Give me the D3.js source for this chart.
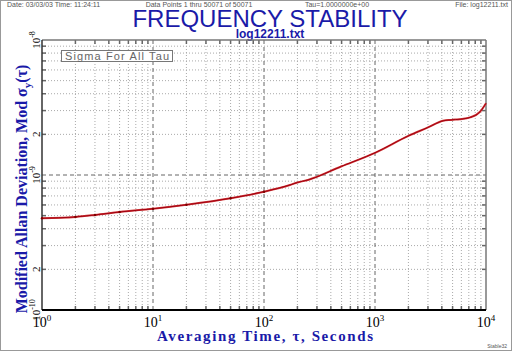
<!DOCTYPE html>
<html>
<head>
<meta charset="utf-8">
<script src="https://cdn.jsdelivr.net/npm/d3@7"></script>
<style>
  body { margin: 0; background: #fff; }
  svg { display: block; }
</style>
</head>
<body>
<div id="chart"></div>
<script>
const width = 512;
const height = 351;

// --- Data ---
const tau = [1, 2, 3, 5, 10, 20, 50, 100, 171, 200, 249, 500, 1000, 2000, 3000, 4100, 4850, 5830, 7180, 8840, 10000];
const modAdev = [4.78e-10, 4.89e-10, 5.06e-10, 5.32e-10, 5.62e-10, 6.02e-10, 6.72e-10, 7.52e-10, 8.43e-10, 8.80e-10, 9.19e-10,
  1.16e-9, 1.46e-9, 1.95e-9, 2.25e-9, 2.52e-9, 2.56e-9, 2.59e-9, 2.67e-9, 2.94e-9, 3.40e-9];
const xTickLabels = [[1, "0"], [10, "1"], [100, "2"], [1000, "3"], [10000, "4"]];
const yTickLabels = [[1e-8, "10", "-8"], [2e-9, "2", null], [1e-9, "10", "-9"], [2e-10, "2", null], [1e-10, "10", "-10"]];

const margin = { left: 42, right: 26, top: 40, bottom: 41 };

const svg = d3.select("#chart")
  .append("svg")
  .attr("width", width)
  .attr("height", height);

const x = d3.scaleLog().domain([1, 1e4]).range([margin.left, width - margin.right]);
const y = d3.scaleLog().domain([1e-10, 1e-8]).range([height - margin.bottom, margin.top]);

const x0 = x.range()[0], x1 = x.range()[1];
const y0 = y.range()[1], y1 = y.range()[0];

// --- Header ---
const hdr = svg.append("g")
  .attr("font-family", "Liberation Sans, Arial, sans-serif")
  .attr("font-size", 7)
  .attr("fill", "#555");
hdr.append("text").attr("x", 7).attr("y", 6.5).text("Date: 03/03/03   Time: 11:24:11");
hdr.append("text").attr("x", 199).attr("y", 6.5).attr("text-anchor", "middle").text("Data Points 1 thru 50071 of 50071");
hdr.append("text").attr("x", 337).attr("y", 6.5).attr("text-anchor", "middle").text("Tau=1.0000000e+00");
hdr.append("text").attr("x", 508).attr("y", 6.5).attr("text-anchor", "end").text("File: log12211.txt");

svg.append("text")
  .attr("x", 270).attr("y", 27)
  .attr("text-anchor", "middle")
  .attr("font-family", "Liberation Sans, Arial, sans-serif")
  .attr("font-size", 24)
  .attr("fill", "#1a1aa8")
  .text("FREQUENCY STABILITY");

svg.append("text")
  .attr("x", 270).attr("y", 38)
  .attr("text-anchor", "middle")
  .attr("font-family", "Liberation Sans, Arial, sans-serif")
  .attr("font-weight", "bold")
  .attr("font-size", 12)
  .attr("fill", "#1a1aa8")
  .text("log12211.txt");

// --- Grid ---
const minorX = [];
for (let d = 1; d < 1e4; d *= 10) for (let k = 2; k <= 9; k++) minorX.push(d * k);
const minorY = [];
for (let d = 1e-10; d < 1e-8 * 0.99; d *= 10) for (let k = 2; k <= 9; k++) minorY.push(d * k);

const grid = svg.append("g");
grid.selectAll(".gx").data(minorX).enter().append("line")
  .attr("x1", d => x(d)).attr("x2", d => x(d))
  .attr("y1", y0).attr("y2", y1)
  .attr("stroke", "#aaa").attr("stroke-dasharray", "1,2");
grid.selectAll(".gy").data(minorY).enter().append("line")
  .attr("y1", d => y(d)).attr("y2", d => y(d))
  .attr("x1", x0).attr("x2", x1)
  .attr("stroke", "#aaa").attr("stroke-dasharray", "1,2");
grid.selectAll(".mx").data([10, 100, 1000]).enter().append("line")
  .attr("x1", d => x(d)).attr("x2", d => x(d))
  .attr("y1", y0).attr("y2", y1)
  .attr("stroke", "#666").attr("stroke-dasharray", "4,3");
grid.selectAll(".my").data([1e-9]).enter().append("line")
  .attr("y1", d => y(d)).attr("y2", d => y(d))
  .attr("x1", x0).attr("x2", x1)
  .attr("stroke", "#666").attr("stroke-dasharray", "4,3");

// --- Frame ticks (inward, all sides) ---
const ticks = svg.append("g").attr("stroke", "#666").attr("stroke-width", 1.5);
minorX.forEach(d => {
  ticks.append("line").attr("x1", x(d)).attr("x2", x(d)).attr("y1", y0).attr("y2", y0 + 4);
  ticks.append("line").attr("x1", x(d)).attr("x2", x(d)).attr("y1", y1).attr("y2", y1 - 4);
});
minorY.forEach(d => {
  ticks.append("line").attr("y1", y(d)).attr("y2", y(d)).attr("x1", x0).attr("x2", x0 + 4);
  ticks.append("line").attr("y1", y(d)).attr("y2", y(d)).attr("x1", x1).attr("x2", x1 - 4);
});

// --- Frame ---
svg.append("line").attr("x1", x0).attr("x2", x1).attr("y1", y0).attr("y2", y0).attr("stroke", "#777").attr("stroke-width", 1.5);
svg.append("line").attr("x1", x1).attr("x2", x1).attr("y1", y0).attr("y2", y1).attr("stroke", "#777").attr("stroke-width", 1.5);
svg.append("line").attr("x1", x0).attr("x2", x0).attr("y1", y0).attr("y2", y1).attr("stroke", "#333").attr("stroke-width", 1.5);
svg.append("line").attr("x1", x0).attr("x2", x1).attr("y1", y1).attr("y2", y1).attr("stroke", "#000").attr("stroke-width", 2);

// --- Legend box ---
svg.append("rect").attr("x", 61.5).attr("y", 50.5).attr("width", 111).attr("height", 11)
  .attr("fill", "#fff").attr("stroke", "#777");
svg.append("text").attr("x", 117).attr("y", 60)
  .attr("text-anchor", "middle")
  .attr("font-family", "Liberation Sans, Arial, sans-serif")
  .attr("font-size", 11)
  .attr("fill", "#666")
  .attr("textLength", 104)
  .text("Sigma For All Tau");

// --- Curve ---
const pts = tau.map((t, i) => [t, modAdev[i]]);
const line = d3.line().x(d => x(d[0])).y(d => y(d[1])).curve(d3.curveMonotoneX);
svg.append("path").datum(pts)
  .attr("d", line)
  .attr("fill", "none")
  .attr("stroke", "#d23a3a")
  .attr("stroke-width", 2);
svg.append("path").datum(pts)
  .attr("d", line)
  .attr("fill", "none")
  .attr("stroke", "#a00010")
  .attr("stroke-width", 1);
svg.selectAll(".pt").data(pts.filter(d => d[0] <= 100)).enter().append("circle")
  .attr("cx", d => x(d[0])).attr("cy", d => y(d[1])).attr("r", 1.2)
  .attr("fill", "#800000");

// --- Tick labels ---
const xl = svg.append("g")
  .attr("font-family", "Liberation Serif, Times New Roman, serif")
  .attr("font-size", 14)
  .attr("fill", "#000");
xTickLabels.forEach(([v, e]) => {
  const t = xl.append("text").attr("x", x(v)).attr("y", y1 + 17).attr("text-anchor", "middle");
  t.append("tspan").text("10");
  t.append("tspan").attr("font-size", 9).attr("dy", -6).text(e);
});

const yl = svg.append("g")
  .attr("font-family", "Liberation Serif, Times New Roman, serif")
  .attr("font-size", 11)
  .attr("fill", "#000");
yTickLabels.forEach(([v, b, e]) => {
  const t = yl.append("text")
    .attr("transform", `translate(${x0 - 2},${y(v)}) rotate(-90)`)
    .attr("text-anchor", "middle");
  t.append("tspan").text(b);
  if (e) t.append("tspan").attr("font-size", 8).attr("dy", -5).text(e);
});

// --- Axis titles ---
svg.append("text")
  .attr("x", 265).attr("y", 341)
  .attr("text-anchor", "middle")
  .attr("font-family", "Liberation Serif, Times New Roman, serif")
  .attr("font-size", 15)
  .attr("font-weight", "bold")
  .attr("fill", "#1a1aa8")
  .attr("textLength", 216)
  .text("Averaging Time, \u03c4, Seconds");

const yt = svg.append("text")
  .attr("transform", `translate(27,189) rotate(-90)`)
  .attr("text-anchor", "middle")
  .attr("font-family", "Liberation Serif, Times New Roman, serif")
  .attr("font-size", 16)
  .attr("font-weight", "bold")
  .attr("fill", "#1a1aa8");
yt.append("tspan").text("Modified Allan Deviation, Mod \u03c3");
yt.append("tspan").attr("font-size", 11).attr("dy", 4).text("y");
yt.append("tspan").attr("dy", -4).text("(\u03c4)");

svg.append("text").attr("x", 507).attr("y", 348)
  .attr("text-anchor", "end")
  .attr("font-family", "Liberation Sans, Arial, sans-serif")
  .attr("font-size", 5)
  .attr("fill", "#555")
  .text("Stable32");

// outer border
svg.append("rect").attr("x", 0.5).attr("y", 0.5).attr("width", width - 1).attr("height", height - 1)
  .attr("fill", "none").attr("stroke", "#999");
</script>
</body>
</html>
